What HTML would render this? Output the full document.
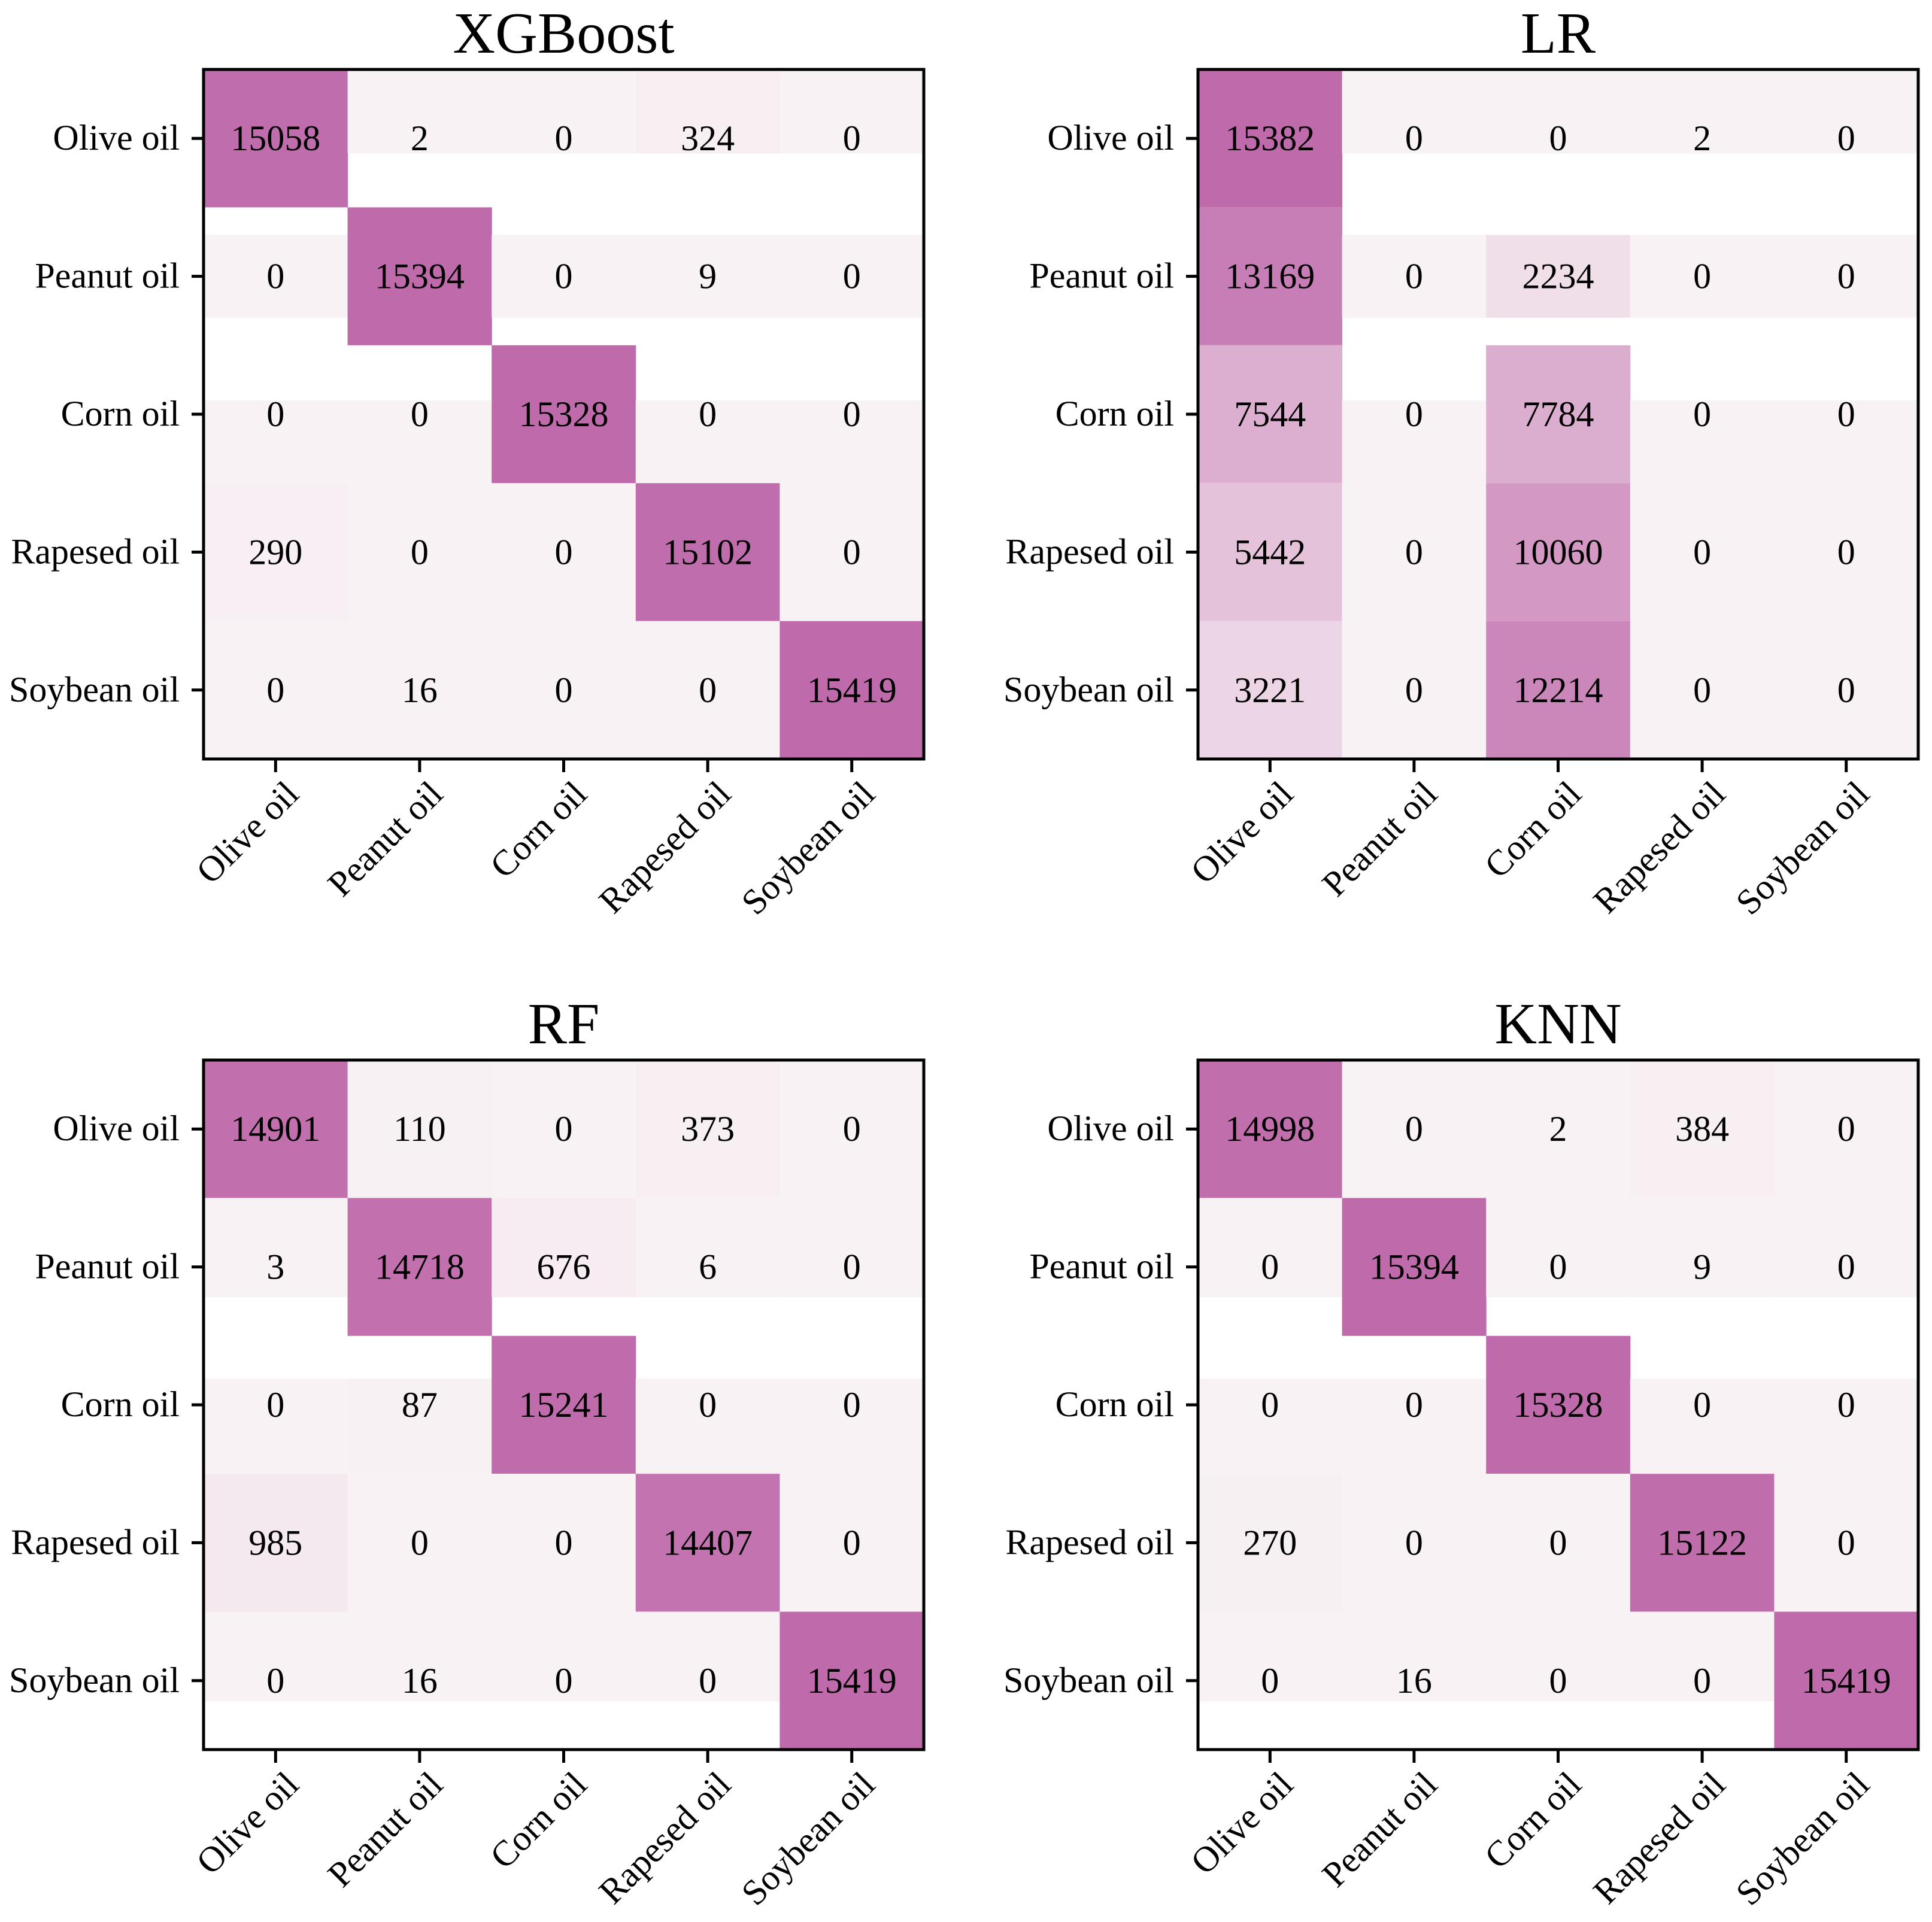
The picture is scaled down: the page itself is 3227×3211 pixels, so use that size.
<!DOCTYPE html>
<html><head><meta charset="utf-8"><style>
html,body{margin:0;padding:0;background:#fff;}
svg{display:block;font-family:"Liberation Serif","Times New Roman",serif;}
</style></head><body>
<svg id="chart" width="3227" height="3211" viewBox="0 0 3227 3211" xmlns="http://www.w3.org/2000/svg"></svg>
<script>
const categories = ["Olive oil","Peanut oil","Corn oil","Rapesed oil","Soybean oil"];
const titles = ["XGBoost","LR","RF","KNN"];
const xgbValues = [[15058,2,0,324,0],[0,15394,0,9,0],[0,0,15328,0,0],[290,0,0,15102,0],[0,16,0,0,15419]];
const lrValues = [[15382,0,0,2,0],[13169,0,2234,0,0],[7544,0,7784,0,0],[5442,0,10060,0,0],[3221,0,12214,0,0]];
const rfValues = [[14901,110,0,373,0],[3,14718,676,6,0],[0,87,15241,0,0],[985,0,0,14407,0],[0,16,0,0,15419]];
const knnValues = [[14998,0,2,384,0],[0,15394,0,9,0],[0,0,15328,0,0],[270,0,0,15122,0],[0,16,0,0,15419]];
// rendering-artifact bands (row units) for low-value cells
const xgbBands = [[0,0.61],[1.2,1.8],[2.4,3],[3,4],[4,5]];
const lrBands = [[0,0.61],[1.2,1.8],[2.4,3],[3,4],[4,5]];
const rfBands = [[0,1],[1,1.72],[2.31,3],[3,4],[4,4.65]];
const knnBands = [[0,1],[1,1.72],[2.31,3],[3,4],[4,4.65]];

const NS = "http://www.w3.org/2000/svg";
const svg = document.getElementById("chart");
const panels = [
  {vals:xgbValues,bands:xgbBands,x0:340,y0:116},
  {vals:lrValues,bands:lrBands,x0:2001,y0:116},
  {vals:rfValues,bands:rfBands,x0:340,y0:1771},
  {vals:knnValues,bands:knnBands,x0:2001,y0:1771}
];
const W = 1203, H = 1152, vmax = 15419;
function color(v){
  const t = Math.min(1, v / vmax);
  const a=[248,242,244], b=[191,106,171];
  const c = a.map((x,i)=>Math.round(x+(b[i]-x)*t));
  return "rgb("+c.join(",")+")";
}
function mk(tag, attrs, parent){
  const e = document.createElementNS(NS, tag);
  for (const k in attrs) e.setAttribute(k, attrs[k]);
  parent.appendChild(e); return e;
}
panels.forEach((p, pi) => {
  const g = mk("g", {}, svg);
  
  
  const cw = W/5, ch = H/5;
  const xs = j => p.x0 + j*cw;
  const ys = r => p.y0 + r*ch;
  p.vals.forEach((row, i) => row.forEach((v, j) => {
    const full = v > 5000;
    const y1 = full ? ys(i) : ys(p.bands[i][0]);
    const y2 = full ? ys(i+1) : ys(p.bands[i][1]);
    const r = mk("rect", {x:xs(j), y:y1, width:cw+0.5, height:y2-y1, fill:color(v)}, g);
    
    
  }));
  p.vals.forEach((row, i) => row.forEach((v, j) => {
    const t = mk("text", {x:xs(j)+cw/2, y:ys(i)+ch/2+20, "font-size":60, "text-anchor":"middle", fill:"#000"}, g);
    t.textContent = v;
    
    
  }));
  const fr = mk("rect", {x:p.x0, y:p.y0, width:W, height:H, fill:"none", stroke:"#000", "stroke-width":5}, g);
  
  
  const tt = mk("text", {x:p.x0+W/2, y:p.y0-28, "font-size":98, "text-anchor":"middle", fill:"#000"}, g);
  tt.textContent = titles[pi];
  
  
  categories.forEach((c, k) => {
    const cy = ys(k)+ch/2;
    mk("line", {x1:p.x0-20, x2:p.x0, y1:cy, y2:cy, stroke:"#000", "stroke-width":5}, g);
    const yl = mk("text", {x:p.x0-40, y:cy+19, "font-size":60, "text-anchor":"end", fill:"#000"}, g);
    yl.textContent = c;
    
    
    const cx = xs(k)+cw/2, by = p.y0+H;
    mk("line", {x1:cx, x2:cx, y1:by, y2:by+22, stroke:"#000", "stroke-width":5}, g);
    const ax = cx+42, ay = by+62;
    const xl = mk("text", {x:ax, y:ay, "font-size":60, "text-anchor":"end", transform:"rotate(-45 "+ax+" "+ay+")", fill:"#000"}, g);
    xl.textContent = c;
    
    
  });
});
</script>
</body></html>
